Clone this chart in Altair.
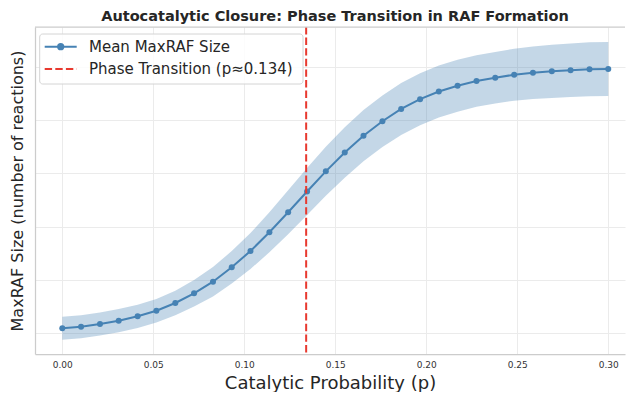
import altair as alt
import pandas as pd

# ---------------- data ----------------
p_values = [0.0, 0.0103, 0.0207, 0.0310, 0.0414, 0.0517, 0.0621, 0.0724, 0.0828, 0.0931,
            0.1034, 0.1138, 0.1241, 0.1345, 0.1448, 0.1552, 0.1655, 0.1759, 0.1862, 0.1966,
            0.2069, 0.2172, 0.2276, 0.2379, 0.2483, 0.2586, 0.2690, 0.2793, 0.2897, 0.3000]
mean_size = [0.88, 1.18, 1.69, 2.31, 3.14, 4.19, 5.64, 7.46, 9.64, 12.35,
             15.41, 18.93, 22.69, 26.60, 30.39, 33.93, 37.09, 39.81, 42.11, 43.95,
             45.39, 46.48, 47.37, 47.99, 48.55, 48.93, 49.19, 49.38, 49.57, 49.62]
std_size = [2.16, 2.16, 2.16, 2.18, 2.18, 2.20, 2.31, 2.50, 2.76, 3.05,
            3.38, 3.76, 4.14, 4.42, 4.61, 4.74, 4.81, 4.85, 4.89, 4.89,
            4.89, 4.89, 4.85, 4.83, 4.89, 4.94, 5.00, 5.04, 5.08, 5.08]
transition_p = [0.134]

title_text = "Autocatalytic Closure: Phase Transition in RAF Formation"
x_title = "Catalytic Probability (p)"
y_title = "MaxRAF Size (number of reactions)"
legend_labels = ["Mean MaxRAF Size", "Phase Transition (p\u22480.134)"]
x_ticks = [0.0, 0.05, 0.10, 0.15, 0.20, 0.25, 0.30]
y_grid = [0, 10, 20, 30, 40, 50]

BLUE = "#4682b4"
RED = "#e8392f"
FONT = "DejaVu Sans"

df = pd.DataFrame({"p": p_values, "mean": mean_size, "std": std_size})
df["lower"] = df["mean"] - df["std"]
df["upper"] = df["mean"] + df["std"]

W, H = 590, 327
xscale = alt.Scale(domain=[-0.015, 0.3092], nice=False, zero=False)
yscale = alt.Scale(domain=[-3.95, 57.52], nice=False, zero=False)

x_axis = alt.Axis(values=x_ticks, format=".2f", title=x_title, labelFontSize=9,
                  labelPadding=6, titleFontSize=18, titlePadding=5)
y_axis = alt.Axis(values=y_grid, labels=False, title=y_title, titleFontSize=16,
                  titlePadding=10)

band = alt.Chart(df).mark_area(color=BLUE, opacity=0.32).encode(
    x=alt.X("p:Q", scale=xscale, axis=x_axis),
    y=alt.Y("lower:Q", scale=yscale, axis=y_axis),
    y2="upper:Q",
)

line = alt.Chart(df).mark_line(
    color=BLUE, strokeWidth=2,
    point=alt.OverlayMarkDef(filled=True, size=36, color=BLUE, opacity=1),
).encode(
    x=alt.X("p:Q", scale=xscale),
    y=alt.Y("mean:Q", scale=yscale),
)

rule = alt.Chart(pd.DataFrame({"p": transition_p})).mark_rule(
    color=RED, strokeWidth=2, strokeDash=[7.4, 3.2]
).encode(x=alt.X("p:Q", scale=xscale))

top_border = alt.Chart(pd.DataFrame({"a": [1]})).mark_rule(
    color="#cccccc", strokeWidth=1.25
).encode(x=alt.value(0), x2=alt.value(W), y=alt.value(0))

# ---------------- legend ----------------
one = pd.DataFrame({"a": [1]})
leg_box = alt.Chart(one).mark_rect(
    fill="white", fillOpacity=0.85, stroke="#d4d4d4", strokeWidth=1, cornerRadius=3
).encode(x=alt.value(4.7), x2=alt.value(268), y=alt.value(7), y2=alt.value(57))
leg_line1 = alt.Chart(one).mark_rule(color=BLUE, strokeWidth=2).encode(
    x=alt.value(9.7), x2=alt.value(41.7), y=alt.value(19.7))
leg_pt = alt.Chart(one).mark_point(filled=True, size=52, color=BLUE, opacity=1).encode(
    x=alt.value(25.7), y=alt.value(19.7))
leg_line2 = alt.Chart(one).mark_rule(color=RED, strokeWidth=2, strokeDash=[7.4, 3.2]).encode(
    x=alt.value(9.7), x2=alt.value(41.7), y=alt.value(42))
leg_text1 = alt.Chart(pd.DataFrame({"label": [legend_labels[0]]})).mark_text(
    align="left", baseline="middle", fontSize=15, font=FONT, color="#262626"
).encode(x=alt.value(54), y=alt.value(19.7), text="label:N")
leg_text2 = alt.Chart(pd.DataFrame({"label": [legend_labels[1]]})).mark_text(
    align="left", baseline="middle", fontSize=15, font=FONT, color="#262626"
).encode(x=alt.value(54), y=alt.value(42), text="label:N")

chart = alt.layer(
    band, line, rule, top_border,
    leg_box, leg_line1, leg_pt, leg_line2, leg_text1, leg_text2,
).properties(
    width=W, height=H,
    title=alt.TitleParams(title_text, font=FONT, fontSize=14.5, fontWeight="bold",
                          color="#262626", anchor="middle", frame="group", dx=5, offset=2),
    padding={"left": 1, "top": 0, "right": 0, "bottom": 0},
).configure_view(stroke=None).configure_axis(
    labelFont=FONT, titleFont=FONT, labelColor="#333333", titleColor="#262626",
    titleFontWeight="normal", ticks=False, domainColor="#cccccc", domainWidth=1.25,
    gridColor="#ebebeb", gridWidth=1,
)

chart.save("out.html", embed_options={"renderer": "svg", "actions": False})
